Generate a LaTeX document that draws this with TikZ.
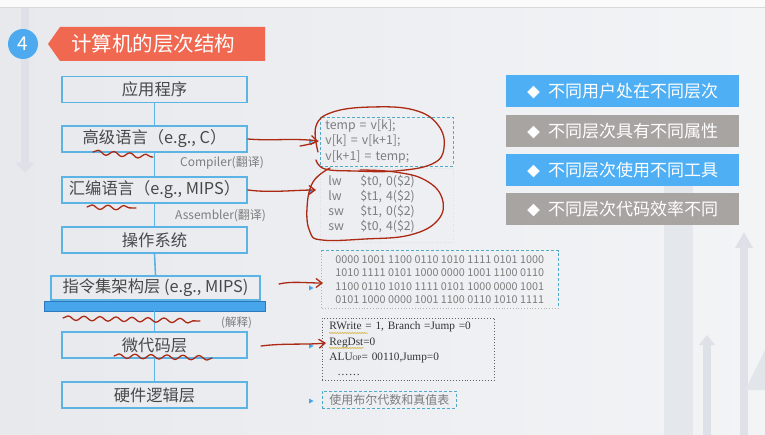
\documentclass[tikz,border=0pt]{standalone}
\usepackage{fontspec}
\setmainfont{Noto Sans CJK SC}
\newfontfamily\serifen{Liberation Serif}
\usetikzlibrary{arrows.meta,decorations.pathmorphing}
\definecolor{bgL}{RGB}{231,233,237}
\definecolor{bgR}{RGB}{243,244,246}
\definecolor{deco}{RGB}{222,225,231}
\definecolor{boxblue}{RGB}{92,180,228}
\definecolor{barblue}{RGB}{70,165,235}
\definecolor{bardark}{RGB}{45,120,185}
\definecolor{banner}{RGB}{240,104,80}
\definecolor{circblue}{RGB}{78,170,238}
\definecolor{btnblue}{RGB}{78,175,245}
\definecolor{btngray}{RGB}{168,164,162}
\definecolor{txtdark}{RGB}{72,72,72}
\definecolor{txtgray}{RGB}{125,125,125}
\definecolor{teal}{RGB}{80,170,200}
\definecolor{redpen}{RGB}{172,42,20}
\definecolor{squig}{RGB}{215,185,80}
\begin{document}
\begin{tikzpicture}[x=1pt,y=-1pt,
  lbox/.style={draw=boxblue,line width=1.7pt,minimum width=185pt,minimum height=26pt,inner sep=0pt,text=txtdark,font=\fontsize{16.3}{18}\selectfont},
  conn/.style={draw=boxblue,line width=1.6pt},
  lab/.style={text=txtgray,font=\fontsize{12}{13}\selectfont,anchor=west,inner sep=0pt},
  btn/.style={minimum width=233pt,minimum height=32pt,inner sep=0pt,text=white,font=\fontsize{17}{20}\selectfont},
  codebox/.style={align=left,anchor=west,text=txtgray,inner ysep=0pt},
  tealdash/.style={draw=teal,dashed,line width=0.7pt,dash pattern=on 3pt off 2pt},
  pen/.style={draw=redpen,line width=1.3pt,line cap=round,line join=round},
  penarrow/.style={pen,-{Straight Barb[length=6pt,width=9pt]}},
  wave/.style={pen,decorate,decoration={snake,amplitude=2.2pt,segment length=16pt}},
  bullet/.style={fill=barblue}
]
\useasboundingbox (0,0) rectangle (765,435);
% background
\shade[left color=bgL,right color=bgR] (0,0) rectangle (765,435);
\fill[white!97!gray] (0,0) rectangle (765,7);
\draw[gray!30,line width=0.8pt] (0,7.5) -- (765,7.5);
% faint decorations
\fill[deco] (21,8) rectangle (29,163);
\fill[deco] (16,163) -- (34,163) -- (25,173) -- cycle;
\fill[deco!70!bgR] (664,175) rectangle (693,435);
\fill[deco] (740,248) rectangle (748,435);
\fill[deco] (735,248) -- (753,248) -- (744,232) -- cycle;
\fill[deco] (703,345) rectangle (711,435);
\fill[deco] (699,345) -- (715,345) -- (707,335) -- cycle;
\fill[deco!80!bgR] (765,350) -- (745,390) -- (765,390) -- cycle;
% title
\node[circle,fill=circblue,minimum size=30pt,inner sep=0pt,text=white,font=\fontsize{19}{20}\selectfont] (num) at (23,44) {4};
\fill[banner] (48,44) -- (60,27) -- (265,27) -- (265,61) -- (60,61) -- cycle;
\node[anchor=west,text=white,font=\fontsize{20.5}{22}\selectfont,inner sep=0pt] (title) at (71,44) {计算机的层次结构};
% left stack
\node[lbox] (app) at (154.5,89.5) {应用程序};
\node[lbox] (high) at (154.5,139) {高级语言（e.g., C）};
\node[lbox] (asm) at (154.5,190) {汇编语言（e.g., MIPS）};
\node[lbox] (os) at (154.5,240) {操作系统};
\node[lbox,minimum width=209pt,minimum height=24pt] (isa) at (155.5,288) {指令集架构层 (e.g., MIPS)};
\node[draw=bardark,fill=barblue,line width=0.8pt,minimum width=221pt,minimum height=10pt,inner sep=0pt] (bar) at (154.5,306) {};
\node[lbox] (micro) at (154.5,345) {微代码层};
\node[lbox] (hw) at (154.5,395) {硬件逻辑层};
\draw[conn] (app.south) -- (high.north);
\draw[conn] (high.south) -- (asm.north);
\draw[conn] (asm.south) -- (os.north);
\draw[conn] (os.south) -- (isa.north);
\draw[conn] (bar.south) -- (micro.north);
\draw[conn] (micro.south) -- (hw.north);
\node[lab] (comp) at (180,163) {Compiler(翻译)};
\node[lab] (assem) at (175,216) {Assembler(翻译)};
\node[lab,font=\fontsize{11.5}{12}\selectfont] (interp) at (221,323) {(解释)};
% right buttons
\node[btn,fill=btnblue] (b1) at (622.5,91.5) {{\fontsize{13}{13}\selectfont ◆}\hspace{8pt}不同用户处在不同层次};
\node[btn,fill=btngray] (b2) at (622.5,131) {{\fontsize{13}{13}\selectfont ◆}\hspace{8pt}不同层次具有不同属性};
\node[btn,fill=btnblue] (b3) at (622.5,170) {{\fontsize{13}{13}\selectfont ◆}\hspace{8pt}不同层次使用不同工具};
\node[btn,fill=btngray] (b4) at (622.5,209.5) {{\fontsize{13}{13}\selectfont ◆}\hspace{8pt}不同层次代码效率不同};
% code boxes
\node[codebox,tealdash,text width=123pt,minimum height=49pt,inner xsep=5pt,font=\fontsize{12.3}{15.5}\selectfont] (c1) at (320,141.5) {temp = v[k];\\v[k] = v[k+1];\\v[k+1] = temp;};
\node[codebox,draw=gray!25,dotted,line width=0.6pt,text width=117pt,minimum height=74pt,inner xsep=8pt,font=\fontsize{12.3}{15}\selectfont] (c2) at (320,205) {\begin{tabular}{@{}p{32pt}@{}l@{}}lw & \$t0, 0(\$2)\\lw & \$t1, 4(\$2)\\sw & \$t1, 0(\$2)\\sw & \$t0, 4(\$2)\end{tabular}};
\node[codebox,minimum height=57pt,minimum width=237pt,inner xsep=6pt,font=\fontsize{10.8}{13.4}\selectfont] (c3) at (321,279.5) {0000 1001 1100 0110 1010 1111 0101 1000\\1010 1111 0101 1000 0000 1001 1100 0110\\1100 0110 1010 1111 0101 1000 0000 1001\\0101 1000 0000 1001 1100 0110 1010 1111};
\draw[tealdash] (c3.north west) -- (c3.north east) -- (c3.south east);
\draw[gray!60,dotted,line width=0.8pt] (c3.north west) -- (c3.south west) -- (c3.south east);
\node[codebox,draw=gray!75!black,dotted,line width=0.9pt,text=black!80,text width=158pt,minimum height=62pt,inner xsep=7pt,font=\serifen\fontsize{11.3}{15.3}\selectfont] (c4) at (322,349) {RWrite = 1, Branch =Jump =0\\RegDst=0\\ALU{\fontsize{7}{8}\selectfont OP}= 00110,Jump=0\\\hspace{8pt}……};
\draw[squig,line width=0.6pt,decorate,decoration={snake,amplitude=0.6pt,segment length=2.5pt}] (329,333) -- (368,333);
\draw[squig,line width=0.6pt,decorate,decoration={snake,amplitude=0.6pt,segment length=2.5pt}] (329,348) -- (364,348);
\node[codebox,tealdash,minimum height=17pt,minimum width=134pt,inner xsep=5pt,font=\fontsize{12}{13}\selectfont] (c5) at (322,399.5) {使用布尔代数和真值表};
% bullets
\foreach \yy in {141,191,288,346,401}
  \fill[bullet] (309,\yy-2.5) -- (313.5,\yy) -- (309,\yy+2.5) -- cycle;
% red pen annotations
\coordinate (e1) at (318,141);
\coordinate (e2) at (316,190);
\coordinate (s3) at (279,284);
\coordinate (e3) at (323,283);
\coordinate (s4) at (261,346);
\coordinate (e4) at (326,343);
\draw[penarrow] (high.east) .. controls (270,141) and (295,138) .. (e1);
\draw[pen] (300,146) .. controls (306,145) and (312,144) .. (e1);
\draw[penarrow] (asm.east) .. controls (270,193) and (295,190) .. (e2);
\draw[penarrow] (s3) .. controls (292,281) and (305,283) .. (e3);
\draw[penarrow] (s4) .. controls (285,343) and (305,345) .. (e4);
\draw[pen] plot[smooth,tension=0.7] coordinates {(318,152) (316,126) (333,112) (372,107) (414,110) (438,125) (444,148) (432,164) (395,171) (355,171) (325,169) (316,160)};
\draw[pen] plot[smooth,tension=0.7] coordinates {(330,168) (313,182) (307,208) (310,232) (322,240) (365,239) (410,235) (438,220) (442,198) (425,180) (395,172) (360,170)};
\draw[wave] (93,152) -- (153,157);
\draw[wave] (87,207) -- (136,208);
\draw[wave] (63,318) -- (200,321);
\draw[wave] (114,356) -- (212,358);
\end{tikzpicture}
\end{document}
